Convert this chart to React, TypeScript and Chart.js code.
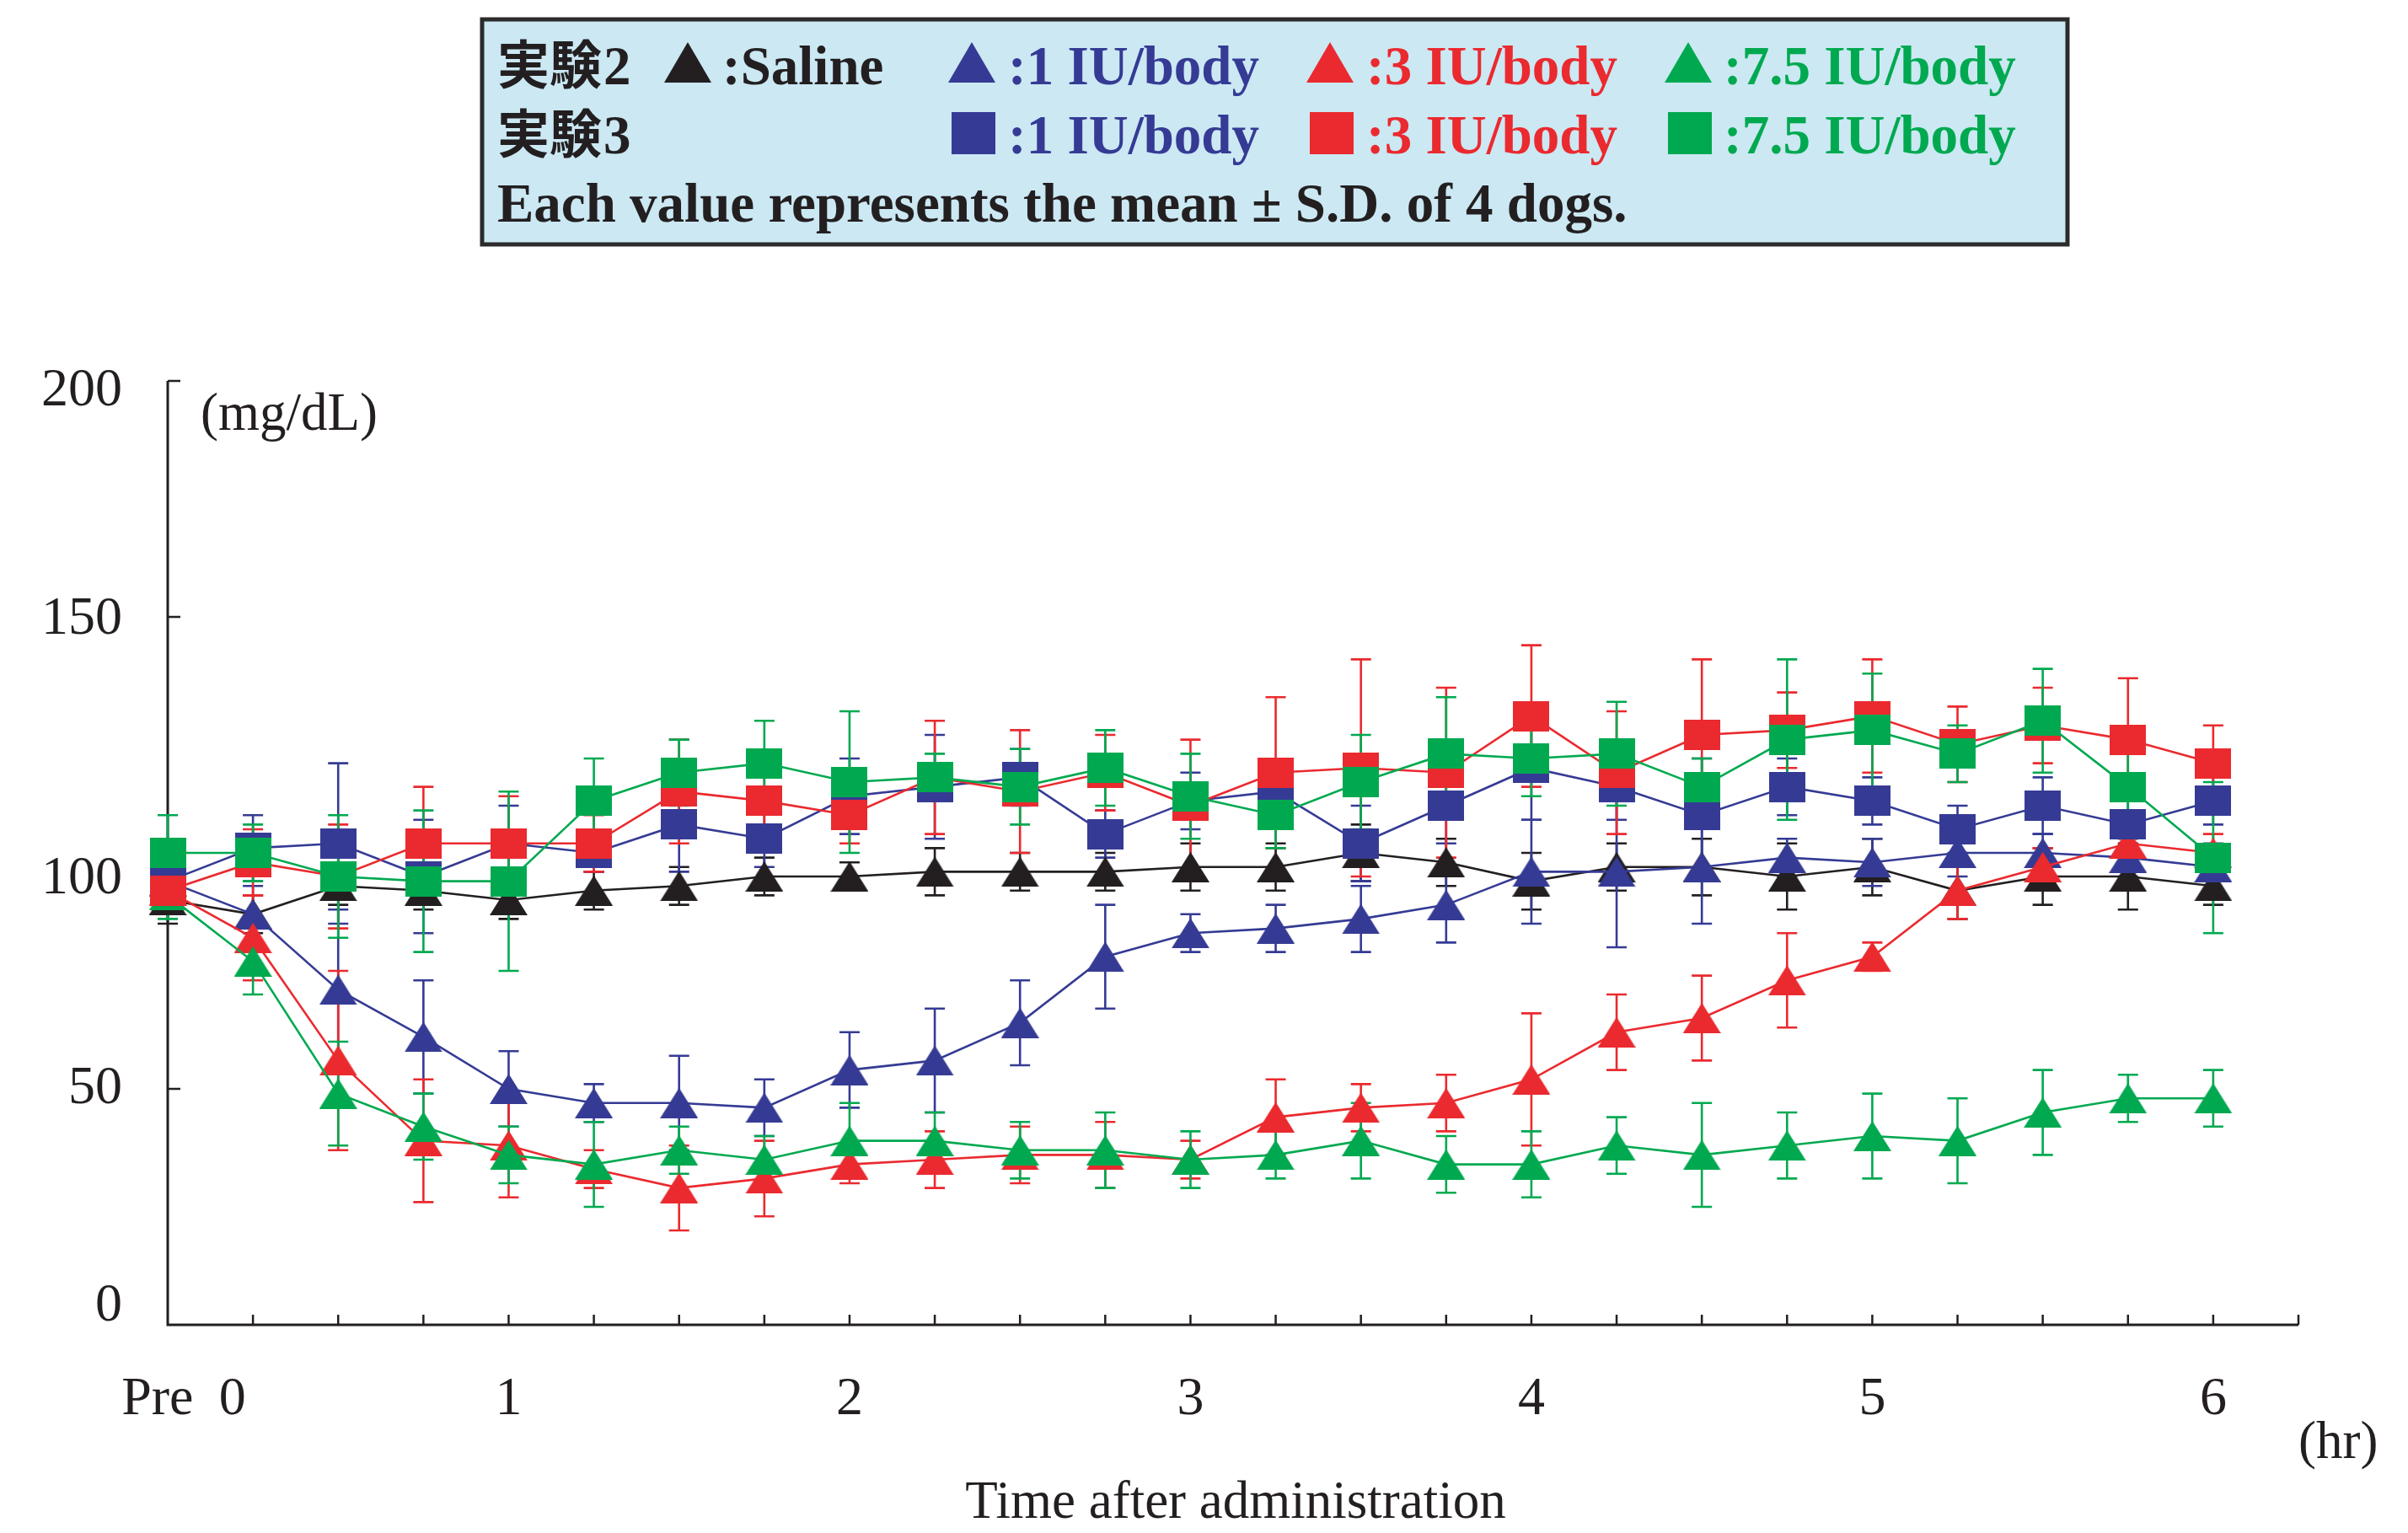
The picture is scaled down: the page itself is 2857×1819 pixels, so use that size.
import React, { useEffect, useRef } from "react";
import { Chart, registerables } from "chart.js";

Chart.register(...registerables);

// ---------- data ----------
const times = [0, 0.25, 0.5, 0.75, 1, 1.25, 1.5, 1.75, 2, 2.25, 2.5, 2.75, 3, 3.25, 3.5, 3.75, 4, 4.25, 4.5, 4.75, 5, 5.25, 5.5, 5.75, 6];

const salineTri = [90, 87, 93, 92, 90, 92, 93, 95, 95, 96, 96, 96, 97, 97, 100, 98, 94, 97, 97, 95, 97, 92, 95, 95, 93];
const salineTriSD = [5, 4, 4, 4, 4, 4, 4, 4, 3, 5, 4, 4, 5, 5, 6, 5, 6, 5, 6, 7, 6, 6, 6, 7, 4];

const exp2Low = [94, 87, 71, 61, 50, 47, 47, 46, 54, 56, 64, 78, 83, 84, 86, 89, 96, 96, 97, 99, 98, 100, 100, 99, 97];
const exp2LowSD = [4, 6, 17, 12, 8, 4, 10, 6, 8, 11, 9, 11, 4, 5, 7, 8, 11, 16, 12, 4, 5, 5, 4, 4, 5];

const exp2Mid = [92, 82, 56, 39, 38, 33, 29, 31, 34, 35, 36, 36, 35, 44, 46, 47, 52, 62, 65, 73, 78, 92, 97, 102, 100];
const exp2MidSD = [4, 9, 19, 13, 11, 4, 9, 8, 4, 6, 6, 7, 4, 8, 5, 6, 14, 8, 9, 10, 3, 6, 4, 4, 4];

const exp2High = [91, 77, 49, 42, 36, 34, 37, 35, 39, 39, 37, 37, 35, 36, 39, 34, 34, 38, 36, 38, 40, 39, 45, 48, 48];
const exp2HighSD = [5, 7, 11, 7, 6, 9, 5, 5, 8, 6, 6, 8, 6, 5, 8, 6, 7, 6, 11, 7, 9, 9, 9, 5, 6];

const exp3Low = [94, 101, 102, 95, 102, 100, 106, 103, 112, 114, 116, 104, 111, 113, 102, 110, 118, 114, 108, 114, 111, 105, 110, 106, 111];
const exp3LowSD = [4, 7, 17, 12, 8, 4, 10, 6, 8, 11, 6, 5, 6, 6, 8, 8, 11, 7, 12, 6, 5, 5, 6, 5, 5];

const exp3Mid = [92, 98, 95, 102, 102, 102, 113, 111, 108, 116, 113, 117, 110, 117, 118, 117, 129, 117, 125, 126, 129, 123, 127, 124, 119];
const exp3MidSD = [4, 7, 11, 12, 10, 6, 11, 8, 6, 12, 13, 8, 14, 16, 23, 18, 15, 13, 16, 8, 12, 8, 8, 13, 8];

const exp3High = [100, 100, 95, 94, 94, 111, 117, 119, 115, 116, 114, 118, 112, 108, 115, 121, 120, 121, 114, 124, 126, 121, 128, 114, 99];
const exp3HighSD = [8, 6, 13, 15, 19, 9, 7, 9, 15, 5, 8, 8, 9, 7, 10, 12, 8, 11, 6, 17, 12, 6, 11, 7, 16];

const yTickValues = [0, 50, 100, 150, 200];
const xTickLabels = ["Pre", "0", "1", "2", "3", "4", "5", "6"];
const xTickLabelValues = [-0.03, 0.19, 1, 2, 3, 4, 5, 6];
const xMinorTicks = [0.25, 0.5, 0.75, 1, 1.25, 1.5, 1.75, 2, 2.25, 2.5, 2.75, 3, 3.25, 3.5, 3.75, 4, 4.25, 4.5, 4.75, 5, 5.25, 5.5, 5.75, 6, 6.25];

const BLACK = "#231f20";
const BLUE = "#353b94";
const RED = "#ea2a2f";
const GREEN = "#00a950";

const SERIF = "'Liberation Serif', 'Times New Roman', serif";
const CJK = "'Noto Sans CJK JP', 'Noto Sans CJK SC', sans-serif";

// vertical nudges of the y tick labels, as set in the original figure (px)
const Y_LABEL_NUDGE: Record<number, number> = { 0: -22, 50: 0, 100: 31, 150: 3, 200: 12 };

function makeMarker(shape: string, color: string, w: number, h: number) {
  const c = document.createElement("canvas");
  c.width = w;
  c.height = h;
  const ctx = c.getContext("2d")!;
  ctx.fillStyle = color;
  if (shape === "tri") {
    ctx.beginPath();
    ctx.moveTo(w / 2, 0);
    ctx.lineTo(w, h);
    ctx.lineTo(0, h);
    ctx.closePath();
    ctx.fill();
  } else {
    ctx.fillRect(0, 0, w, h);
  }
  return c;
}

const errorBarPlugin = {
  id: "errorBars",
  beforeDatasetsDraw(chart: any) {
    const ctx = chart.ctx;
    const ys = chart.scales.y;
    const n = chart.data.datasets.length;
    for (let d = 0; d < n; d++) {
      const ds = chart.data.datasets[d];
      const meta = chart.getDatasetMeta(d);
      ctx.save();
      ctx.strokeStyle = ds.borderColor;
      ctx.lineWidth = 2.6;
      meta.data.forEach((pt: any, i: number) => {
        const v = ds.data[i].y;
        const sd = ds.sd[i];
        const yt = ys.getPixelForValue(v + sd);
        const yb = ys.getPixelForValue(v - sd);
        const x = pt.x;
        ctx.beginPath();
        ctx.moveTo(x, yt);
        ctx.lineTo(x, yb);
        ctx.moveTo(x - 12, yt);
        ctx.lineTo(x + 12, yt);
        ctx.moveTo(x - 12, yb);
        ctx.lineTo(x + 12, yb);
        ctx.stroke();
      });
      ctx.restore();
    }
  },
};

const axesPlugin = {
  id: "customAxes",
  beforeDatasetsDraw(chart: any) {
    const ctx = chart.ctx;
    const xs = chart.scales.x;
    const ys = chart.scales.y;
    const left = xs.getPixelForValue(0);
    const right = xs.getPixelForValue(6.25);
    const bottom = ys.getPixelForValue(0);
    const top = ys.getPixelForValue(200);
    ctx.save();
    ctx.strokeStyle = BLACK;
    ctx.lineWidth = 3;
    ctx.beginPath();
    ctx.moveTo(left, top);
    ctx.lineTo(left, bottom);
    ctx.lineTo(right, bottom);
    ctx.stroke();
    ctx.lineWidth = 2.5;
    ctx.beginPath();
    yTickValues.forEach((v) => {
      if (v === 0) return;
      const y = ys.getPixelForValue(v);
      ctx.moveTo(left, y);
      ctx.lineTo(left + 15, y);
    });
    xMinorTicks.forEach((t) => {
      const x = xs.getPixelForValue(t);
      ctx.moveTo(x, bottom);
      ctx.lineTo(x, bottom - 12);
    });
    ctx.stroke();

    ctx.fillStyle = BLACK;
    ctx.font = `64px ${SERIF}`;
    ctx.textAlign = "right";
    ctx.textBaseline = "middle";
    yTickValues.forEach((v) => {
      ctx.fillText(String(v), 145, ys.getPixelForValue(v) + (Y_LABEL_NUDGE[v] || 0));
    });
    ctx.textAlign = "center";
    ctx.textBaseline = "alphabetic";
    xTickLabels.forEach((lab, i) => {
      ctx.fillText(lab, xs.getPixelForValue(xTickLabelValues[i]), 1678);
    });
    ctx.font = `63px ${SERIF}`;
    ctx.fillText("Time after administration", 1466, 1801);
    ctx.textAlign = "left";
    ctx.fillText("(hr)", 2727, 1730);
    ctx.fillText("(mg/dL)", 238, 510);
    ctx.restore();
  },
};

const legendPlugin = {
  id: "boxLegend",
  afterDraw(chart: any) {
    const ctx = chart.ctx;
    ctx.save();
    ctx.fillStyle = "#cbe8f3";
    ctx.fillRect(572, 23, 1881, 267);
    ctx.strokeStyle = "#2b2b2b";
    ctx.lineWidth = 5;
    ctx.strokeRect(572, 23, 1881, 267);

    const tri = (cx: number, cy: number, color: string) => {
      ctx.fillStyle = color;
      ctx.beginPath();
      ctx.moveTo(cx, cy - 24);
      ctx.lineTo(cx + 28, cy + 24);
      ctx.lineTo(cx - 28, cy + 24);
      ctx.closePath();
      ctx.fill();
    };
    const sq = (cx: number, cy: number, color: string) => {
      ctx.fillStyle = color;
      ctx.fillRect(cx - 26, cy - 25, 52, 50);
    };
    const txt = (s: string, x: number, y: number, color: string) => {
      ctx.fillStyle = color;
      ctx.font = `bold 65px ${SERIF}`;
      ctx.textAlign = "left";
      ctx.textBaseline = "alphabetic";
      ctx.fillText(s, x, y);
    };
    const label = (s: string, n: string, x: number, y: number) => {
      ctx.fillStyle = BLACK;
      ctx.font = `bold 62px ${CJK}`;
      ctx.textAlign = "left";
      ctx.textBaseline = "alphabetic";
      ctx.fillText(s, x, y);
      const w = ctx.measureText(s).width;
      ctx.font = `bold 65px ${SERIF}`;
      ctx.fillText(n, x + w + 2, y);
    };

    label("実験", "2", 590, 100);
    tri(816, 74, BLACK);
    txt(":Saline", 857, 100, BLACK);
    tri(1153, 74, BLUE);
    txt(":1 IU/body", 1196, 100, BLUE);
    tri(1578, 74, RED);
    txt(":3 IU/body", 1621, 100, RED);
    tri(2003, 74, GREEN);
    txt(":7.5 IU/body", 2045, 100, GREEN);

    label("実験", "3", 590, 182);
    sq(1155, 158, BLUE);
    txt(":1 IU/body", 1196, 182, BLUE);
    sq(1580, 158, RED);
    txt(":3 IU/body", 1621, 182, RED);
    sq(2005, 158, GREEN);
    txt(":7.5 IU/body", 2045, 182, GREEN);

    txt("Each value represents the mean \u00b1 S.D. of 4 dogs.", 590, 263, BLACK);
    ctx.restore();
  },
};

export default function App() {
  const ref = useRef<HTMLCanvasElement | null>(null);
  useEffect(() => {
    if (!ref.current) return;
    const series = [
      { label: "Saline", v: salineTri, sd: salineTriSD, color: BLACK, shape: "tri", order: 7 },
      { label: "実験2 1 IU/body", v: exp2Low, sd: exp2LowSD, color: BLUE, shape: "tri", order: 6 },
      { label: "実験2 3 IU/body", v: exp2Mid, sd: exp2MidSD, color: RED, shape: "tri", order: 5 },
      { label: "実験2 7.5 IU/body", v: exp2High, sd: exp2HighSD, color: GREEN, shape: "tri", order: 4 },
      { label: "実験3 1 IU/body", v: exp3Low, sd: exp3LowSD, color: BLUE, shape: "sq", order: 3 },
      { label: "実験3 3 IU/body", v: exp3Mid, sd: exp3MidSD, color: RED, shape: "sq", order: 2 },
      { label: "実験3 7.5 IU/body", v: exp3High, sd: exp3HighSD, color: GREEN, shape: "sq", order: 1 },
    ];
    const chart = new Chart(ref.current, {
      type: "line",
      data: {
        datasets: series.map((s) => ({
          label: s.label,
          data: times.map((t, i) => ({ x: t, y: s.v[i] })),
          sd: s.sd,
          order: s.order,
          borderColor: s.color,
          backgroundColor: s.color,
          borderWidth: 2.6,
          pointStyle: s.shape === "tri" ? makeMarker("tri", s.color, 45, 36) : makeMarker("sq", s.color, 43, 36),
          pointRadius: 20,
          pointHoverRadius: 20,
          tension: 0,
          clip: false,
        })) as any,
      },
      options: {
        responsive: false,
        animation: false,
        devicePixelRatio: 1,
        layout: { padding: { left: 199, right: 130, top: 452, bottom: 247 } },
        scales: {
          x: { type: "linear", min: 0, max: 6.25, display: false },
          y: { type: "linear", min: 0, max: 200, display: false },
        },
        plugins: { legend: { display: false }, tooltip: { enabled: false }, title: { display: false } },
        events: [],
      },
      plugins: [axesPlugin, errorBarPlugin, legendPlugin],
    });
    return () => chart.destroy();
  }, []);
  return (
    <div style={{ position: "absolute", left: 0, top: 0, width: 2857, height: 1819, background: "#fff" }}>
      <canvas ref={ref} width={2857} height={1819} style={{ width: 2857, height: 1819, display: "block" }} />
    </div>
  );
}
